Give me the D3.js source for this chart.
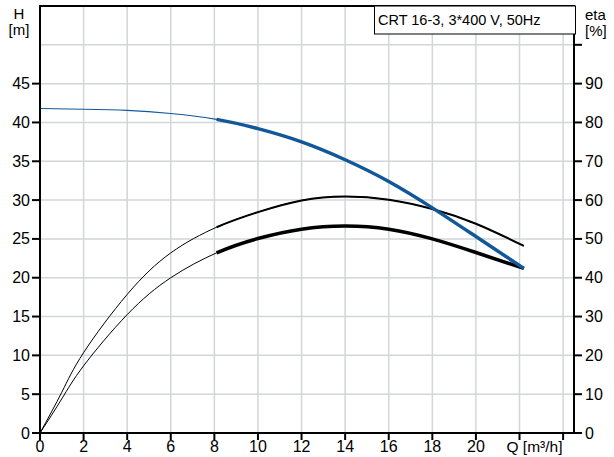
<!DOCTYPE html>
<html><head><meta charset="utf-8">
<script src="https://cdn.jsdelivr.net/npm/d3@7"></script>
<style>body{margin:0;background:#fff}svg{display:block;font-family:"Liberation Sans",Arial,sans-serif}</style>
</head><body>
<svg id="c" width="614" height="457"></svg>
<script>
// Data
const qH = [0, 2, 4, 6, 8.1, 10, 12, 14, 16, 18, 20, 22.2];
const headH = [41.8, 41.7, 41.55, 41.15, 40.4, 39.2, 37.5, 35.2, 32.4, 29.0, 25.3, 21.2];
const qEta = [0, 1, 2, 4, 6, 8.1, 10, 12, 14, 16, 18, 20, 22.2];
const etaUpper = [0, 10.5, 20.7, 35.7, 46.4, 53.0, 56.9, 59.9, 60.9, 60.1, 57.7, 53.9, 48.2];
const etaLower = [0, 8.8, 17.3, 30.5, 40.0, 46.4, 50.1, 52.5, 53.3, 52.5, 50.0, 46.5, 42.4];
const dutyStart = 8.1;
const xTicks = [0, 2, 4, 6, 8, 10, 12, 14, 16, 18, 20, 22, 24];
const xTickLabels = ["0", "2", "4", "6", "8", "10", "12", "14", "16", "18", "20", "", ""];
const hTicks = [0, 5, 10, 15, 20, 25, 30, 35, 40, 45];
const etaTicks = [0, 10, 20, 30, 40, 50, 60, 70, 80, 90, 100];
const etaTickLabels = ["0", "10", "20", "30", "40", "50", "60", "70", "80", "90", ""];
const gridH = [5, 10, 15, 20, 25, 30, 35, 40, 45, 50];
const gridQ = [2, 4, 6, 8, 10, 12, 14, 16, 18, 20, 22, 24];
const title = "CRT 16-3, 3*400 V, 50Hz";

const svg = d3.select("#c");
const L = 40, R = 574, T = 6, B = 433;
const x = d3.scaleLinear().domain([0, 24.5]).range([L, R]);
const y = d3.scaleLinear().domain([0, 55]).range([B, T]);
const y2 = d3.scaleLinear().domain([0, 110]).range([B, T]);

// grid
const g = svg.append("g");
g.selectAll(".gv").data(gridQ).join("line")
  .attr("x1", d => x(d)).attr("x2", d => x(d)).attr("y1", T).attr("y2", B)
  .attr("stroke", "#d3d5d8").attr("stroke-width", 1.5);
g.selectAll(".gh").data(gridH).join("line")
  .attr("y1", d => y(d)).attr("y2", d => y(d)).attr("x1", L).attr("x2", R)
  .attr("stroke", "#d3d5d8").attr("stroke-width", 1.5);

// curves
const curve = d3.curveNatural;
function drawSeries(qs, vs, sc, color, thin, thick) {
  const full = qs.map((q, i) => [q, vs[i]]);
  const lineGen = d3.line().x(d => x(d[0])).y(d => sc(d[1])).curve(curve);
  svg.append("path").attr("d", lineGen(full)).attr("fill", "none").attr("stroke", color).attr("stroke-width", thin);
  const tmp = svg.append("path").attr("d", lineGen(full)).attr("fill", "none").attr("stroke", "none");
  const node = tmp.node();
  const len = node.getTotalLength();
  const xs = x(dutyStart);
  let lo = 0, hi = len;
  for (let k = 0; k < 40; k++) { const m = (lo + hi) / 2; if (node.getPointAtLength(m).x < xs) lo = m; else hi = m; }
  tmp.remove();
  svg.append("path").attr("d", lineGen(full)).attr("fill", "none").attr("stroke", color)
    .attr("stroke-width", thick).attr("stroke-dasharray", `0 ${lo} ${len - lo + 1}`);
}
drawSeries(qEta, etaUpper, y2, "#000", 1, 2);
drawSeries(qEta, etaLower, y2, "#000", 1, 3.5);
drawSeries(qH, headH, y, "#11589a", 1.2, 3.5);

// frame
svg.append("rect").attr("x", L).attr("y", T).attr("width", R - L).attr("height", B - T)
  .attr("fill", "none").attr("stroke", "#000").attr("stroke-width", 2);

// axes
const ax = svg.append("g").style("font-size", "16px").attr("fill", "#000");
ax.selectAll(".lt").data(hTicks).join("line")
  .attr("x1", L - 8).attr("x2", L).attr("y1", d => y(d)).attr("y2", d => y(d)).attr("stroke", "#000").attr("stroke-width", 2);
ax.selectAll(".ll").data(hTicks).join("text")
  .attr("x", L - 10).attr("y", d => y(d) + 5.5).attr("text-anchor", "end").text(d => d);
ax.selectAll(".rt").data(etaTicks).join("line")
  .attr("x1", R).attr("x2", R + 8).attr("y1", d => y2(d)).attr("y2", d => y2(d)).attr("stroke", "#000").attr("stroke-width", 2);
ax.selectAll(".rl").data(etaTicks).join("text")
  .attr("x", R + 11).attr("y", d => y2(d) + 5.5).attr("text-anchor", "start").text((d, i) => etaTickLabels[i]);
ax.selectAll(".bt").data(xTicks).join("line")
  .attr("x1", d => x(d)).attr("x2", d => x(d)).attr("y1", B).attr("y2", B + 7).attr("stroke", "#000").attr("stroke-width", 2);
ax.selectAll(".bl").data(xTicks).join("text")
  .attr("x", d => x(d)).attr("y", 452).attr("text-anchor", "middle").text((d, i) => xTickLabels[i]);
ax.append("text").attr("x", x(22) - 13).attr("y", 452).style("font-size", "15.5px").text("Q [m³/h]");

// axis titles
ax.append("text").attr("x", 19).attr("y", 19).style("font-size", "15px").attr("text-anchor", "middle").text("H");
ax.append("text").attr("x", 19).attr("y", 35).style("font-size", "15px").attr("text-anchor", "middle").text("[m]");
ax.append("text").attr("x", 585).attr("y", 20).style("font-size", "15px").text("eta");
ax.append("text").attr("x", 585).attr("y", 36).style("font-size", "15px").text("[%]");

// title box
svg.append("rect").attr("x", 374.5).attr("y", T).attr("width", 201).attr("height", 28)
  .attr("fill", "#fff").attr("stroke", "#000").attr("stroke-width", 1);
svg.append("text").attr("x", 378).attr("y", 25).style("font-size", "14.5px").text(title);
</script>
</body></html>
